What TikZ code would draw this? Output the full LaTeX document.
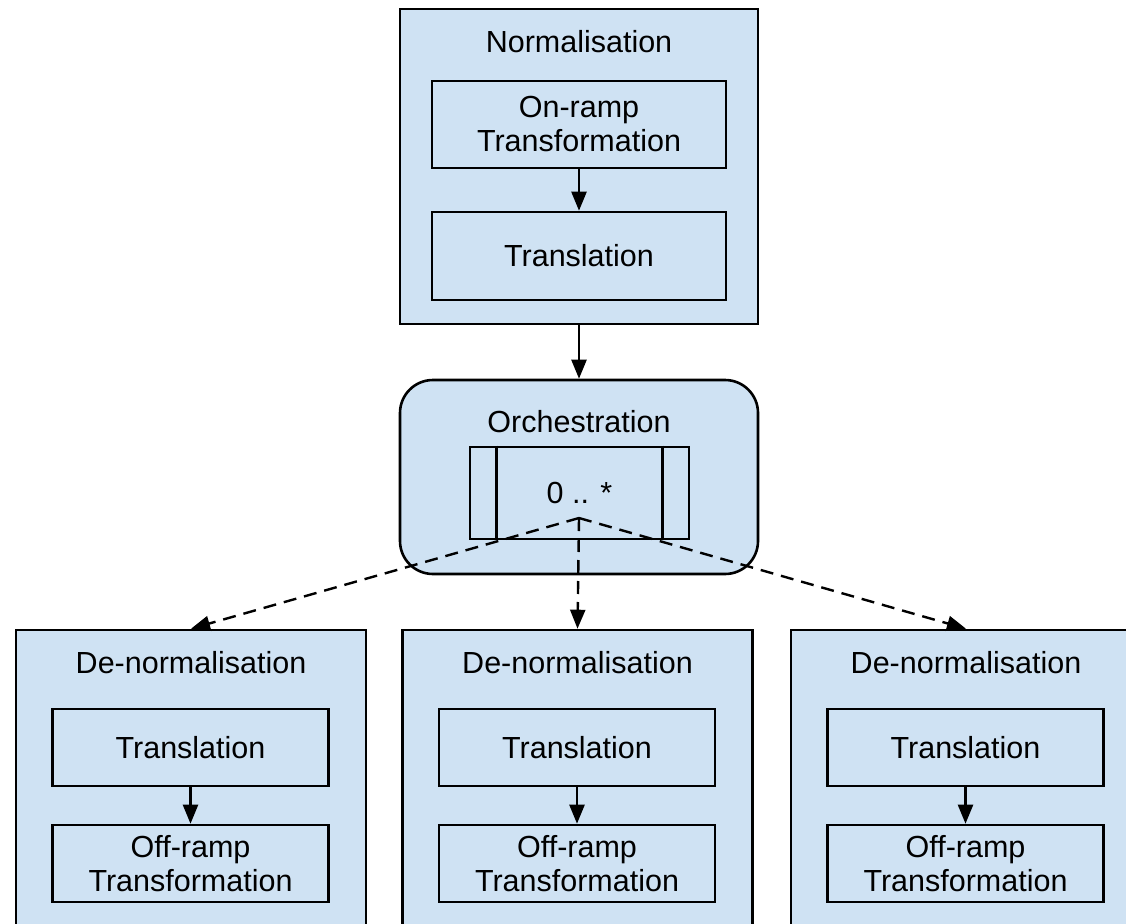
\documentclass[tikz,border=0pt]{standalone}
\usepackage{fontspec}
\setmainfont{Liberation Sans}
\usetikzlibrary{arrows.meta}
\definecolor{boxblue}{HTML}{CFE2F3}
\tikzset{
  stage/.style={draw, fill=boxblue, line width=2.6pt, inner sep=0pt},
  part/.style={draw, fill=boxblue, line width=2.6pt, align=center, inner sep=0pt,
    minimum width=276pt, minimum height=77pt},
  title/.style={inner sep=0pt},
  flow/.style={line width=2.4pt, -{Triangle[length=19pt,width=15pt]}},
  fan/.style={flow, dash pattern=on 13pt off 8pt},
}

\begin{document}
\begin{tikzpicture}[x=1pt,y=-1pt,font=\fontsize{30.5}{34}\selectfont]
    \clip (0,0) rectangle (1126,923);
    % normalisation
    \node[stage, minimum width=358pt, minimum height=315pt] (norm) at (579,166.5) {};
    \node[title] (normtitle) at (579,42) {Normalisation};
    \node[part, minimum width=294pt, minimum height=87pt] (onramp) at (579,124.5) {On-ramp\\Transformation};
    \node[part, minimum width=294pt, minimum height=88pt] (trans) at (579,256) {Translation};
    \draw[flow] (onramp) -- (trans);
    % orchestration
    \node[stage, rounded corners=33pt, minimum width=358pt, minimum height=194pt] (orch) at (579,477) {};
    \node[title] (orchtitle) at (579,422) {Orchestration};
    \node[stage, minimum width=219pt, minimum height=92pt] (mult) at (579.5,493) {0 .. *};
    \draw[line width=2.6pt] ([xshift=28pt]mult.north west) -- ([xshift=28pt]mult.south west);
    \draw[line width=2.6pt] ([xshift=-28pt]mult.north east) -- ([xshift=-28pt]mult.south east);
    \draw[flow] (norm) -- (orch);
    \coordinate (fork) at (579,518);
    % de-normalisation
    \foreach \i/\x in {1/191,2/577.5,3/966} {
      \node[stage, minimum width=350pt, minimum height=330pt] (den\i) at (\x,795) {};
      \node[title] (dentitle\i) at (\x,663) {De-normalisation};
      \node[part] (trb\i) at (\x-0.5,747.5) {Translation};
      \node[part] (off\i) at (\x-0.5,863.5) {Off-ramp\\Transformation};
      \draw[flow] (trb\i) -- (off\i);
    }
    \foreach \i in {1,2,3}
      \draw[fan] (fork) -- (den\i.north);
  \end{tikzpicture}
\end{document}
